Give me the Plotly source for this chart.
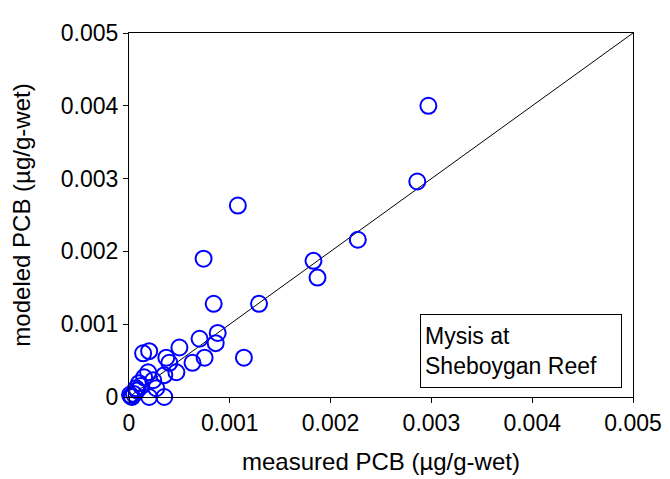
import plotly.graph_objects as go

measured = [0.00297, 0.00286, 0.00227, 0.00183, 0.00187, 0.00108, 0.00074, 0.00084,
            0.00129, 0.00088, 0.00086, 0.00070, 0.00114, 0.00075, 0.00063, 0.00050,
            0.00037, 0.00040, 0.00014, 0.00020, 0.00047, 0.00035, 0.00019, 0.00015,
            0.00024, 0.00027, 0.00020, 0.00035, 0.00010, 0.00007, 0.00002, 0.00005,
            0.00001, 0.00008, 0.00003, 0.00012]
modeled = [0.00400, 0.00296, 0.00216, 0.00187, 0.00164, 0.00263, 0.00190, 0.00128,
           0.00128, 0.00088, 0.00074, 0.00080, 0.00054, 0.00054, 0.00047, 0.00068,
           0.00054, 0.00047, 0.00060, 0.00063, 0.00034, 0.00030, 0.00034, 0.00027,
           0.00023, 0.00012, 0.00000, 0.00000, 0.00019, 0.00012, 0.00001, 0.00004,
           0.00003, 0.00009, 0.00000, 0.00015]
line_x = [0, 0.005]
line_y = [0, 0.005]
ticks = [0, 0.001, 0.002, 0.003, 0.004, 0.005]
tick_text = ["0", "0.001", "0.002", "0.003", "0.004", "0.005"]

FONT = "Liberation Sans, Arial"

fig = go.Figure()
fig.add_trace(go.Scatter(x=line_x, y=line_y, mode="lines",
                         line=dict(color="black", width=1), hoverinfo="skip"))
fig.add_trace(go.Scatter(x=measured, y=modeled, mode="markers", cliponaxis=False,
                         marker=dict(symbol="circle-open", size=16, color="#0000FF",
                                     line=dict(width=2, color="#0000FF"))))

axis_common = dict(range=[0, 0.005], tickvals=ticks, ticktext=tick_text,
                   showline=True, linecolor="black", linewidth=1, mirror=True,
                   ticks="outside", ticklen=5, tickcolor="black", showgrid=False,
                   zeroline=False, tickfont=dict(family=FONT, size=23, color="black"))

fig.update_xaxes(**axis_common, title=dict(text="measured PCB (µg/g-wet)",
                 font=dict(family=FONT, size=24, color="black"), standoff=18))
fig.update_yaxes(**axis_common, title=dict(text="modeled PCB (µg/g-wet)",
                 font=dict(family=FONT, size=24, color="black"), standoff=24))

fig.add_annotation(xref="paper", yref="paper", x=(420 - 128) / 505, y=(397 - 312) / 371,
                   xanchor="left", yanchor="top", showarrow=False, align="left",
                   text="Mysis at<br>Sheboygan Reef",
                   font=dict(family=FONT, size=23, color="black"),
                   bordercolor="black", borderwidth=1, borderpad=4, bgcolor="white",
                   width=192, height=64)

fig.update_layout(width=670, height=479, margin=dict(l=120, r=45, t=18, b=90),
                  plot_bgcolor="white", paper_bgcolor="white", showlegend=False)
fig.write_html("out.html")
